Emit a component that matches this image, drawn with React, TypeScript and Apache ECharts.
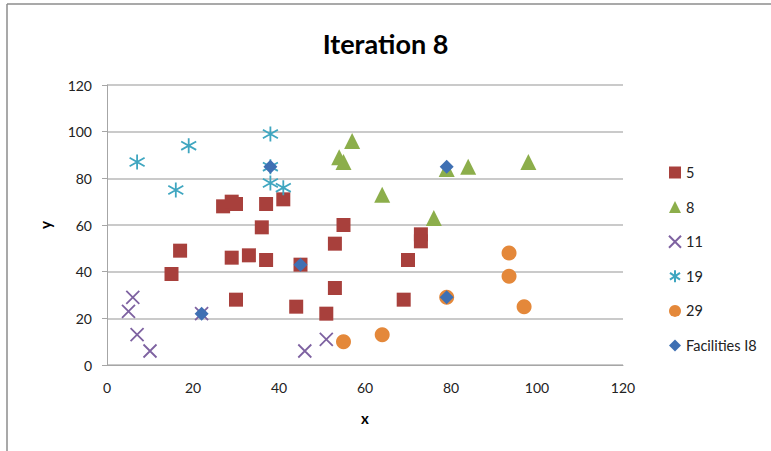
import React, { useEffect, useRef } from "react";
import * as echarts from "echarts";

// Cluster members per facility, as [x, y] pairs
const cluster5: number[][] = [
  [15, 39], [17, 49], [27, 68], [29, 70], [30, 69], [37, 69], [41, 71], [36, 59],
  [55, 60], [53, 52], [29, 46], [33, 47], [37, 45], [45, 43], [53, 33], [30, 28],
  [44, 25], [51, 22], [73, 56], [73, 53], [70, 45], [69, 28],
];
const cluster8: number[][] = [
  [54, 89], [55, 87], [57, 96], [64, 73], [76, 63], [79, 84], [84, 85], [98, 87],
];
const cluster11: number[][] = [
  [6, 29], [5, 23], [7, 13], [10, 6], [22, 22], [46, 6], [51, 11],
];
const cluster19: number[][] = [
  [7, 87], [19, 94], [16, 75], [38, 99], [38, 85], [38, 78], [41, 76],
];
const cluster29: number[][] = [
  [55, 10], [64, 13], [79, 29], [93.5, 48], [93.5, 38], [97, 25],
];
const facilities: number[][] = [
  [22, 22], [38, 85], [45, 43], [79, 29], [79, 85],
];

const seriesNames = ["5", "8", "11", "19", "29", "Facilities I8"];
const xTicks = { min: 0, max: 120, interval: 20 };
const yTicks = { min: 0, max: 120, interval: 20 };

const FONT = "Lato, 'Open Sans', 'Liberation Sans', sans-serif";

const CROSS = "path://M0 0 L100 100 M100 0 L0 100";
const STAR = "path://M50 0 L50 100 M8 22 L92 78 M92 22 L8 78";

export default function App() {
  const ref = useRef<HTMLDivElement>(null);

  useEffect(() => {
    if (!ref.current) return;
    const chart = echarts.init(ref.current, undefined, { renderer: "svg" });

    const filled = (name: string, data: number[][], symbol: string, size: number, color: string, z: number) => ({
      name,
      type: "scatter",
      data,
      symbol,
      symbolSize: size,
      itemStyle: { color, opacity: 1 },
      z,
    });
    const stroked = (name: string, data: number[][], symbol: string, size: number, color: string, z: number) => ({
      name,
      type: "scatter",
      data,
      symbol,
      symbolSize: size,
      itemStyle: { color: "rgba(0,0,0,0)", borderColor: color, borderWidth: 1.8, opacity: 1 },
      z,
    });

    chart.setOption({
      animation: false,
      backgroundColor: "#ffffff",
      title: {
        text: "Iteration 8",
        left: "center",
        top: 25,
        textStyle: { fontFamily: FONT, fontSize: 27, fontWeight: "bold", color: "#000" },
      },
      grid: { left: 107, top: 85, width: 516, height: 280, containLabel: false },
      xAxis: {
        type: "value",
        min: xTicks.min,
        max: xTicks.max,
        interval: xTicks.interval,
        name: "x",
        nameLocation: "middle",
        nameGap: 45,
        nameTextStyle: { fontFamily: FONT, fontSize: 15, fontWeight: "bold", color: "#000" },
        axisLine: { show: true, lineStyle: { color: "#a6a6a6", width: 1 } },
        axisTick: { show: false },
        axisLabel: { fontFamily: FONT, fontSize: 14, color: "#222", margin: 15 },
        splitLine: { show: false },
      },
      yAxis: {
        type: "value",
        min: yTicks.min,
        max: yTicks.max,
        interval: yTicks.interval,
        name: "y",
        nameLocation: "middle",
        nameRotate: 90,
        nameGap: 55,
        nameTextStyle: { fontFamily: FONT, fontSize: 15, fontWeight: "bold", color: "#000" },
        axisLine: { show: true, lineStyle: { color: "#a6a6a6", width: 1 } },
        axisTick: { show: true, inside: false, length: 5, lineStyle: { color: "#a6a6a6" } },
        axisLabel: { fontFamily: FONT, fontSize: 14, color: "#222", margin: 15 },
        splitLine: { show: true, lineStyle: { color: "#b8b8b8", width: 1.5 } },
      },
      legend: {
        orient: "vertical",
        left: 663,
        top: 160,
        itemWidth: 12,
        itemHeight: 12,
        itemGap: 19.6,
        data: seriesNames,
        textStyle: { fontFamily: FONT, fontSize: 14.5, color: "#222", lineHeight: 14 },
      },
      graphic: [
        { type: "line", shape: { x1: 7, y1: 4, x2: 7, y2: 451 }, style: { stroke: "#8c8c8c", lineWidth: 1.5 } },
        { type: "line", shape: { x1: 7, y1: 4, x2: 771, y2: 4 }, style: { stroke: "#8c8c8c", lineWidth: 1.5 } },
      ],
      series: [
        filled(seriesNames[0], cluster5, "rect", 14, "#a8403c", 2),
        filled(seriesNames[1], cluster8, "triangle", 16, "#8cae4b", 3),
        stroked(seriesNames[2], cluster11, CROSS, 13, "#7e62a1", 4),
        stroked(seriesNames[3], cluster19, STAR, 15, "#3fa6c0", 5),
        filled(seriesNames[4], cluster29, "circle", 15, "#e4883a", 6),
        filled(seriesNames[5], facilities, "diamond", 14, "#3f70b3", 7),
      ],
    });

    return () => chart.dispose();
  }, []);

  return (
    <div
      ref={ref}
      style={{ position: "absolute", left: 0, top: 0, width: 771, height: 451, background: "#fff" }}
    />
  );
}
